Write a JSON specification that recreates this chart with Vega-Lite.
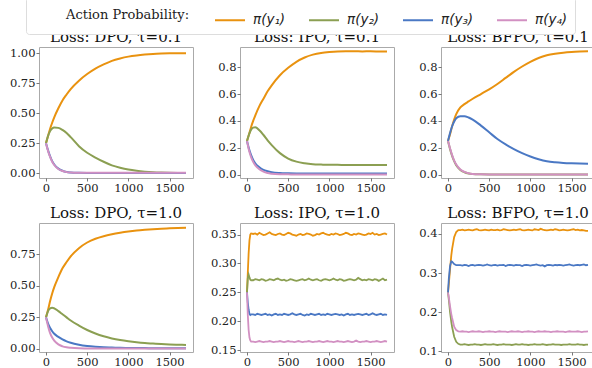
{
"$schema":"https://vega.github.io/schema/vega-lite/v6.json",
"padding":{"left":8,"top":-4,"right":0,"bottom":0},
"background":"white",
"config":{
 "font":"DejaVu Serif",
 "view":{"stroke":"#aaaaaa","strokeWidth":1},
 "axis":{"labelFont":"DejaVu Serif","labelFontSize":11.5,"labelColor":"#222222","tickColor":"#555555","tickSize":3,"tickWidth":0.8,"domain":false,"grid":false,"title":null,"labelPadding":1,"labelOverlap":false,"labelFlush":false},
 "title":{"font":"DejaVu Serif","fontSize":15,"fontWeight":"normal","color":"#111111","offset":2,"anchor":"middle"},
 "legend":{"orient":"none","legendX":-13,"legendY":-50,"direction":"horizontal","titleOrient":"left","titleFont":"DejaVu Serif","titleFontSize":13,"titleFontWeight":"normal","titleColor":"#222222","titlePadding":24,"labelFont":"DejaVu Sans","labelFontSize":13.5,"labelFontStyle":"italic","labelColor":"#222222","symbolType":"stroke","symbolSize":900,"symbolStrokeWidth":1.5,"labelOffset":7,"columnPadding":19,"padding":7,"fillColor":"white","strokeColor":"#dddddd","cornerRadius":3},
 "line":{"strokeWidth":2}
},
"data":{"values":[
{"p":1,"x":0,"a":0.25,"b":0.25,"c":0.25,"d":0.25},
{"p":1,"x":25,"a":0.31,"b":0.31,"c":0.19,"d":0.185},
{"p":1,"x":50,"a":0.37,"b":0.35,"c":0.14,"d":0.135},
{"p":1,"x":75,"a":0.42,"b":0.372,"c":0.1,"d":0.095},
{"p":1,"x":100,"a":0.465,"b":0.38,"c":0.072,"d":0.068},
{"p":1,"x":150,"a":0.54,"b":0.377,"c":0.038,"d":0.035},
{"p":1,"x":200,"a":0.605,"b":0.36,"c":0.02,"d":0.018},
{"p":1,"x":250,"a":0.655,"b":0.335,"c":0.01,"d":0.009},
{"p":1,"x":300,"a":0.7,"b":0.3,"c":0.006,"d":0.005},
{"p":1,"x":400,"a":0.77,"b":0.225,"c":0.003,"d":0.003},
{"p":1,"x":500,"a":0.825,"b":0.17,"c":0.002,"d":0.003},
{"p":1,"x":600,"a":0.87,"b":0.13,"c":0.002,"d":0.003},
{"p":1,"x":700,"a":0.905,"b":0.095,"c":0.002,"d":0.003},
{"p":1,"x":800,"a":0.935,"b":0.065,"c":0.002,"d":0.003},
{"p":1,"x":900,"a":0.955,"b":0.045,"c":0.002,"d":0.003},
{"p":1,"x":1000,"a":0.97,"b":0.03,"c":0.002,"d":0.003},
{"p":1,"x":1100,"a":0.98,"b":0.02,"c":0.002,"d":0.003},
{"p":1,"x":1200,"a":0.987,"b":0.013,"c":0.002,"d":0.003},
{"p":1,"x":1300,"a":0.992,"b":0.008,"c":0.002,"d":0.003},
{"p":1,"x":1400,"a":0.995,"b":0.005,"c":0.002,"d":0.003},
{"p":1,"x":1500,"a":0.997,"b":0.003,"c":0.002,"d":0.003},
{"p":1,"x":1600,"a":0.998,"b":0.002,"c":0.002,"d":0.003},
{"p":1,"x":1700,"a":0.998,"b":0.002,"c":0.002,"d":0.003},

{"p":2,"x":0,"a":0.25,"b":0.25,"c":0.25,"d":0.25},
{"p":2,"x":25,"a":0.30,"b":0.30,"c":0.19,"d":0.18},
{"p":2,"x":50,"a":0.355,"b":0.335,"c":0.145,"d":0.13},
{"p":2,"x":75,"a":0.40,"b":0.35,"c":0.11,"d":0.095},
{"p":2,"x":100,"a":0.44,"b":0.352,"c":0.085,"d":0.07},
{"p":2,"x":150,"a":0.51,"b":0.33,"c":0.055,"d":0.04},
{"p":2,"x":200,"a":0.565,"b":0.295,"c":0.035,"d":0.022},
{"p":2,"x":250,"a":0.62,"b":0.255,"c":0.025,"d":0.012},
{"p":2,"x":300,"a":0.665,"b":0.22,"c":0.018,"d":0.007},
{"p":2,"x":400,"a":0.74,"b":0.16,"c":0.012,"d":0.003},
{"p":2,"x":500,"a":0.795,"b":0.12,"c":0.01,"d":0.002},
{"p":2,"x":600,"a":0.84,"b":0.097,"c":0.009,"d":0.001},
{"p":2,"x":700,"a":0.872,"b":0.085,"c":0.009,"d":0.001},
{"p":2,"x":800,"a":0.893,"b":0.078,"c":0.009,"d":0.001},
{"p":2,"x":900,"a":0.906,"b":0.075,"c":0.009,"d":0.001},
{"p":2,"x":1000,"a":0.913,"b":0.073,"c":0.009,"d":0.001},
{"p":2,"x":1100,"a":0.917,"b":0.073,"c":0.009,"d":0.001},
{"p":2,"x":1200,"a":0.918,"b":0.072,"c":0.009,"d":0.001},
{"p":2,"x":1300,"a":0.918,"b":0.072,"c":0.009,"d":0.001},
{"p":2,"x":1400,"a":0.917,"b":0.072,"c":0.009,"d":0.001},
{"p":2,"x":1500,"a":0.918,"b":0.071,"c":0.009,"d":0.001},
{"p":2,"x":1600,"a":0.917,"b":0.072,"c":0.009,"d":0.001},
{"p":2,"x":1700,"a":0.916,"b":0.072,"c":0.009,"d":0.001},

{"p":3,"x":0,"a":0.25,"b":0.25,"c":0.25,"d":0.25},
{"p":3,"x":25,"a":0.30,"b":0.19,"c":0.31,"d":0.195},
{"p":3,"x":50,"a":0.36,"b":0.14,"c":0.36,"d":0.145},
{"p":3,"x":75,"a":0.41,"b":0.1,"c":0.395,"d":0.105},
{"p":3,"x":100,"a":0.45,"b":0.07,"c":0.42,"d":0.075},
{"p":3,"x":150,"a":0.5,"b":0.035,"c":0.435,"d":0.038},
{"p":3,"x":200,"a":0.525,"b":0.018,"c":0.435,"d":0.02},
{"p":3,"x":250,"a":0.545,"b":0.009,"c":0.425,"d":0.01},
{"p":3,"x":300,"a":0.565,"b":0.005,"c":0.41,"d":0.005},
{"p":3,"x":400,"a":0.6,"b":0.002,"c":0.365,"d":0.002},
{"p":3,"x":500,"a":0.635,"b":0.001,"c":0.315,"d":0.001},
{"p":3,"x":600,"a":0.675,"b":0.001,"c":0.265,"d":0.001},
{"p":3,"x":700,"a":0.72,"b":0.001,"c":0.225,"d":0.001},
{"p":3,"x":800,"a":0.765,"b":0.001,"c":0.19,"d":0.001},
{"p":3,"x":900,"a":0.805,"b":0.001,"c":0.16,"d":0.001},
{"p":3,"x":1000,"a":0.84,"b":0.001,"c":0.135,"d":0.001},
{"p":3,"x":1100,"a":0.868,"b":0.001,"c":0.115,"d":0.001},
{"p":3,"x":1200,"a":0.888,"b":0.001,"c":0.1,"d":0.001},
{"p":3,"x":1300,"a":0.9,"b":0.001,"c":0.092,"d":0.001},
{"p":3,"x":1400,"a":0.908,"b":0.001,"c":0.087,"d":0.001},
{"p":3,"x":1500,"a":0.913,"b":0.001,"c":0.084,"d":0.001},
{"p":3,"x":1600,"a":0.916,"b":0.001,"c":0.082,"d":0.001},
{"p":3,"x":1700,"a":0.918,"b":0.001,"c":0.081,"d":0.001},

{"p":4,"x":0,"a":0.25,"b":0.25,"c":0.25,"d":0.25},
{"p":4,"x":25,"a":0.31,"b":0.30,"c":0.2,"d":0.18},
{"p":4,"x":50,"a":0.38,"b":0.322,"c":0.165,"d":0.125},
{"p":4,"x":75,"a":0.44,"b":0.327,"c":0.14,"d":0.09},
{"p":4,"x":100,"a":0.49,"b":0.322,"c":0.12,"d":0.065},
{"p":4,"x":150,"a":0.57,"b":0.3,"c":0.095,"d":0.035},
{"p":4,"x":200,"a":0.64,"b":0.275,"c":0.075,"d":0.02},
{"p":4,"x":250,"a":0.69,"b":0.25,"c":0.06,"d":0.012},
{"p":4,"x":300,"a":0.735,"b":0.225,"c":0.048,"d":0.008},
{"p":4,"x":400,"a":0.8,"b":0.185,"c":0.032,"d":0.004},
{"p":4,"x":500,"a":0.845,"b":0.15,"c":0.022,"d":0.003},
{"p":4,"x":600,"a":0.875,"b":0.122,"c":0.016,"d":0.002},
{"p":4,"x":700,"a":0.895,"b":0.1,"c":0.012,"d":0.002},
{"p":4,"x":800,"a":0.91,"b":0.083,"c":0.01,"d":0.002},
{"p":4,"x":900,"a":0.922,"b":0.07,"c":0.008,"d":0.002},
{"p":4,"x":1000,"a":0.932,"b":0.06,"c":0.007,"d":0.002},
{"p":4,"x":1100,"a":0.94,"b":0.052,"c":0.006,"d":0.002},
{"p":4,"x":1200,"a":0.946,"b":0.046,"c":0.006,"d":0.002},
{"p":4,"x":1300,"a":0.951,"b":0.042,"c":0.005,"d":0.002},
{"p":4,"x":1400,"a":0.955,"b":0.038,"c":0.005,"d":0.002},
{"p":4,"x":1500,"a":0.958,"b":0.035,"c":0.005,"d":0.002},
{"p":4,"x":1600,"a":0.961,"b":0.033,"c":0.005,"d":0.002},
{"p":4,"x":1700,"a":0.963,"b":0.031,"c":0.005,"d":0.002},

{"p":5,"x":0,"a":0.25,"b":0.25,"c":0.25,"d":0.25},
{"p":5,"x":10,"a":0.285,"b":0.275,"c":0.232,"d":0.21},
{"p":5,"x":20,"a":0.318,"b":0.281,"c":0.22,"d":0.185},
{"p":5,"x":30,"a":0.34,"b":0.276,"c":0.213,"d":0.172},
{"p":5,"x":40,"a":0.35,"b":0.272,"c":0.211,"d":0.167},
{"p":5,"x":50,"a":0.352,"b":0.271,"c":0.212,"d":0.165},
{"p":5,"x":75,"a":0.351,"b":0.271,"c":0.212,"d":0.165},
{"p":5,"x":100,"a":0.352,"b":0.273,"c":0.211,"d":0.164},
{"p":5,"x":125,"a":0.350,"b":0.272,"c":0.213,"d":0.165},
{"p":5,"x":150,"a":0.353,"b":0.271,"c":0.212,"d":0.166},
{"p":5,"x":175,"a":0.351,"b":0.273,"c":0.211,"d":0.165},
{"p":5,"x":200,"a":0.349,"b":0.272,"c":0.212,"d":0.164},
{"p":5,"x":225,"a":0.350,"b":0.270,"c":0.213,"d":0.165},
{"p":5,"x":250,"a":0.352,"b":0.271,"c":0.211,"d":0.165},
{"p":5,"x":275,"a":0.354,"b":0.273,"c":0.212,"d":0.166},
{"p":5,"x":300,"a":0.351,"b":0.272,"c":0.210,"d":0.165},
{"p":5,"x":325,"a":0.350,"b":0.271,"c":0.212,"d":0.164},
{"p":5,"x":350,"a":0.349,"b":0.273,"c":0.213,"d":0.165},
{"p":5,"x":375,"a":0.351,"b":0.274,"c":0.211,"d":0.165},
{"p":5,"x":400,"a":0.352,"b":0.272,"c":0.212,"d":0.166},
{"p":5,"x":425,"a":0.350,"b":0.271,"c":0.211,"d":0.165},
{"p":5,"x":450,"a":0.349,"b":0.272,"c":0.213,"d":0.164},
{"p":5,"x":475,"a":0.351,"b":0.270,"c":0.212,"d":0.165},
{"p":5,"x":500,"a":0.353,"b":0.271,"c":0.211,"d":0.166},
{"p":5,"x":525,"a":0.352,"b":0.273,"c":0.212,"d":0.165},
{"p":5,"x":550,"a":0.350,"b":0.272,"c":0.214,"d":0.165},
{"p":5,"x":575,"a":0.349,"b":0.271,"c":0.212,"d":0.164},
{"p":5,"x":600,"a":0.348,"b":0.270,"c":0.211,"d":0.165},
{"p":5,"x":625,"a":0.350,"b":0.271,"c":0.212,"d":0.166},
{"p":5,"x":650,"a":0.351,"b":0.272,"c":0.213,"d":0.165},
{"p":5,"x":675,"a":0.349,"b":0.273,"c":0.211,"d":0.164},
{"p":5,"x":700,"a":0.350,"b":0.271,"c":0.210,"d":0.165},
{"p":5,"x":725,"a":0.352,"b":0.272,"c":0.212,"d":0.165},
{"p":5,"x":750,"a":0.351,"b":0.274,"c":0.211,"d":0.166},
{"p":5,"x":775,"a":0.350,"b":0.272,"c":0.213,"d":0.165},
{"p":5,"x":800,"a":0.348,"b":0.271,"c":0.212,"d":0.164},
{"p":5,"x":825,"a":0.349,"b":0.272,"c":0.211,"d":0.165},
{"p":5,"x":850,"a":0.351,"b":0.273,"c":0.212,"d":0.165},
{"p":5,"x":875,"a":0.350,"b":0.271,"c":0.213,"d":0.166},
{"p":5,"x":900,"a":0.352,"b":0.270,"c":0.211,"d":0.165},
{"p":5,"x":925,"a":0.353,"b":0.272,"c":0.212,"d":0.164},
{"p":5,"x":950,"a":0.351,"b":0.273,"c":0.211,"d":0.165},
{"p":5,"x":975,"a":0.350,"b":0.272,"c":0.213,"d":0.166},
{"p":5,"x":1000,"a":0.349,"b":0.271,"c":0.212,"d":0.165},
{"p":5,"x":1025,"a":0.351,"b":0.272,"c":0.211,"d":0.165},
{"p":5,"x":1050,"a":0.350,"b":0.274,"c":0.212,"d":0.164},
{"p":5,"x":1075,"a":0.352,"b":0.272,"c":0.213,"d":0.165},
{"p":5,"x":1100,"a":0.351,"b":0.271,"c":0.212,"d":0.166},
{"p":5,"x":1125,"a":0.349,"b":0.273,"c":0.211,"d":0.165},
{"p":5,"x":1150,"a":0.350,"b":0.272,"c":0.212,"d":0.165},
{"p":5,"x":1175,"a":0.351,"b":0.270,"c":0.210,"d":0.164},
{"p":5,"x":1200,"a":0.353,"b":0.271,"c":0.212,"d":0.165},
{"p":5,"x":1225,"a":0.352,"b":0.272,"c":0.213,"d":0.166},
{"p":5,"x":1250,"a":0.350,"b":0.273,"c":0.211,"d":0.165},
{"p":5,"x":1275,"a":0.349,"b":0.272,"c":0.212,"d":0.164},
{"p":5,"x":1300,"a":0.351,"b":0.271,"c":0.211,"d":0.165},
{"p":5,"x":1325,"a":0.350,"b":0.272,"c":0.212,"d":0.167},
{"p":5,"x":1350,"a":0.352,"b":0.275,"c":0.213,"d":0.165},
{"p":5,"x":1375,"a":0.351,"b":0.273,"c":0.212,"d":0.164},
{"p":5,"x":1400,"a":0.350,"b":0.271,"c":0.211,"d":0.165},
{"p":5,"x":1425,"a":0.349,"b":0.272,"c":0.212,"d":0.165},
{"p":5,"x":1450,"a":0.350,"b":0.271,"c":0.213,"d":0.166},
{"p":5,"x":1475,"a":0.352,"b":0.273,"c":0.211,"d":0.165},
{"p":5,"x":1500,"a":0.351,"b":0.272,"c":0.212,"d":0.164},
{"p":5,"x":1525,"a":0.353,"b":0.271,"c":0.214,"d":0.165},
{"p":5,"x":1550,"a":0.350,"b":0.273,"c":0.212,"d":0.165},
{"p":5,"x":1575,"a":0.351,"b":0.272,"c":0.211,"d":0.166},
{"p":5,"x":1600,"a":0.349,"b":0.270,"c":0.212,"d":0.165},
{"p":5,"x":1625,"a":0.350,"b":0.272,"c":0.213,"d":0.164},
{"p":5,"x":1650,"a":0.351,"b":0.274,"c":0.211,"d":0.165},
{"p":5,"x":1675,"a":0.352,"b":0.271,"c":0.212,"d":0.166},
{"p":5,"x":1700,"a":0.350,"b":0.272,"c":0.211,"d":0.165},

{"p":6,"x":0,"a":0.25,"b":0.25,"c":0.25,"d":0.25},
{"p":6,"x":10,"a":0.272,"b":0.232,"c":0.285,"d":0.238},
{"p":6,"x":25,"a":0.31,"b":0.2,"c":0.318,"d":0.215},
{"p":6,"x":40,"a":0.345,"b":0.175,"c":0.33,"d":0.195},
{"p":6,"x":50,"a":0.362,"b":0.162,"c":0.329,"d":0.185},
{"p":6,"x":75,"a":0.392,"b":0.137,"c":0.323,"d":0.163},
{"p":6,"x":100,"a":0.405,"b":0.124,"c":0.32,"d":0.154},
{"p":6,"x":125,"a":0.41,"b":0.119,"c":0.32,"d":0.151},
{"p":6,"x":150,"a":0.410,"b":0.117,"c":0.320,"d":0.150},
{"p":6,"x":175,"a":0.411,"b":0.117,"c":0.319,"d":0.151},
{"p":6,"x":200,"a":0.409,"b":0.118,"c":0.321,"d":0.150},
{"p":6,"x":225,"a":0.410,"b":0.117,"c":0.320,"d":0.150},
{"p":6,"x":250,"a":0.411,"b":0.116,"c":0.318,"d":0.149},
{"p":6,"x":275,"a":0.410,"b":0.117,"c":0.320,"d":0.150},
{"p":6,"x":300,"a":0.409,"b":0.117,"c":0.321,"d":0.151},
{"p":6,"x":325,"a":0.411,"b":0.118,"c":0.319,"d":0.150},
{"p":6,"x":350,"a":0.412,"b":0.117,"c":0.320,"d":0.150},
{"p":6,"x":375,"a":0.410,"b":0.117,"c":0.321,"d":0.151},
{"p":6,"x":400,"a":0.409,"b":0.116,"c":0.320,"d":0.150},
{"p":6,"x":425,"a":0.410,"b":0.117,"c":0.319,"d":0.149},
{"p":6,"x":450,"a":0.411,"b":0.118,"c":0.320,"d":0.150},
{"p":6,"x":475,"a":0.410,"b":0.117,"c":0.322,"d":0.150},
{"p":6,"x":500,"a":0.409,"b":0.117,"c":0.320,"d":0.151},
{"p":6,"x":525,"a":0.411,"b":0.117,"c":0.319,"d":0.150},
{"p":6,"x":550,"a":0.410,"b":0.118,"c":0.320,"d":0.150},
{"p":6,"x":575,"a":0.410,"b":0.117,"c":0.321,"d":0.149},
{"p":6,"x":600,"a":0.411,"b":0.116,"c":0.319,"d":0.150},
{"p":6,"x":625,"a":0.409,"b":0.117,"c":0.320,"d":0.151},
{"p":6,"x":650,"a":0.410,"b":0.117,"c":0.320,"d":0.150},
{"p":6,"x":675,"a":0.412,"b":0.118,"c":0.321,"d":0.150},
{"p":6,"x":700,"a":0.411,"b":0.117,"c":0.318,"d":0.150},
{"p":6,"x":725,"a":0.410,"b":0.117,"c":0.320,"d":0.149},
{"p":6,"x":750,"a":0.409,"b":0.117,"c":0.321,"d":0.150},
{"p":6,"x":775,"a":0.410,"b":0.116,"c":0.320,"d":0.151},
{"p":6,"x":800,"a":0.411,"b":0.117,"c":0.319,"d":0.150},
{"p":6,"x":825,"a":0.410,"b":0.118,"c":0.321,"d":0.150},
{"p":6,"x":850,"a":0.411,"b":0.117,"c":0.320,"d":0.151},
{"p":6,"x":875,"a":0.412,"b":0.117,"c":0.320,"d":0.150},
{"p":6,"x":900,"a":0.410,"b":0.118,"c":0.318,"d":0.149},
{"p":6,"x":925,"a":0.409,"b":0.117,"c":0.320,"d":0.150},
{"p":6,"x":950,"a":0.410,"b":0.117,"c":0.321,"d":0.150},
{"p":6,"x":975,"a":0.411,"b":0.116,"c":0.320,"d":0.151},
{"p":6,"x":1000,"a":0.410,"b":0.117,"c":0.319,"d":0.150},
{"p":6,"x":1025,"a":0.409,"b":0.117,"c":0.320,"d":0.150},
{"p":6,"x":1050,"a":0.412,"b":0.118,"c":0.321,"d":0.149},
{"p":6,"x":1075,"a":0.411,"b":0.117,"c":0.322,"d":0.150},
{"p":6,"x":1100,"a":0.410,"b":0.117,"c":0.320,"d":0.151},
{"p":6,"x":1125,"a":0.413,"b":0.117,"c":0.319,"d":0.150},
{"p":6,"x":1150,"a":0.411,"b":0.118,"c":0.320,"d":0.150},
{"p":6,"x":1175,"a":0.410,"b":0.117,"c":0.317,"d":0.151},
{"p":6,"x":1200,"a":0.409,"b":0.116,"c":0.320,"d":0.150},
{"p":6,"x":1225,"a":0.410,"b":0.117,"c":0.321,"d":0.150},
{"p":6,"x":1250,"a":0.411,"b":0.117,"c":0.320,"d":0.149},
{"p":6,"x":1275,"a":0.410,"b":0.118,"c":0.319,"d":0.150},
{"p":6,"x":1300,"a":0.412,"b":0.117,"c":0.321,"d":0.150},
{"p":6,"x":1325,"a":0.411,"b":0.117,"c":0.320,"d":0.151},
{"p":6,"x":1350,"a":0.409,"b":0.117,"c":0.321,"d":0.150},
{"p":6,"x":1375,"a":0.410,"b":0.116,"c":0.320,"d":0.150},
{"p":6,"x":1400,"a":0.411,"b":0.117,"c":0.319,"d":0.150},
{"p":6,"x":1425,"a":0.410,"b":0.117,"c":0.320,"d":0.149},
{"p":6,"x":1450,"a":0.409,"b":0.117,"c":0.321,"d":0.150},
{"p":6,"x":1475,"a":0.410,"b":0.118,"c":0.322,"d":0.151},
{"p":6,"x":1500,"a":0.411,"b":0.117,"c":0.320,"d":0.150},
{"p":6,"x":1525,"a":0.412,"b":0.117,"c":0.319,"d":0.150},
{"p":6,"x":1550,"a":0.410,"b":0.117,"c":0.320,"d":0.150},
{"p":6,"x":1575,"a":0.411,"b":0.118,"c":0.321,"d":0.151},
{"p":6,"x":1600,"a":0.409,"b":0.117,"c":0.320,"d":0.150},
{"p":6,"x":1625,"a":0.410,"b":0.117,"c":0.321,"d":0.149},
{"p":6,"x":1650,"a":0.409,"b":0.116,"c":0.322,"d":0.150},
{"p":6,"x":1675,"a":0.408,"b":0.117,"c":0.320,"d":0.150},
{"p":6,"x":1700,"a":0.408,"b":0.117,"c":0.321,"d":0.151}
]},
"columns":3,
"bounds":"flush",
"spacing":{"row":45,"column":47},
"concat":[
{"title":"Loss: DPO, τ=0.1","width":154,"height":131,
 "transform":[{"filter":"datum.p==1"},{"fold":["a","b","c","d"],"as":["s","v"]}],
 "mark":{"type":"line","strokeWidth":2,"interpolate":"monotone"},
 "encoding":{
  "x":{"field":"x","type":"quantitative","scale":{"domain":[-85,1785],"nice":false,"zero":false},"axis":{"values":[0,500,1000,1500],"format":"d"}},
  "y":{"field":"v","type":"quantitative","scale":{"domain":[-0.04,1.05],"nice":false,"zero":false},"axis":{"values":[0,0.25,0.5,0.75,1],"format":".2f"}},
  "color":{"field":"s","type":"nominal","scale":{"domain":["a","b","c","d"],"range":["#e9920f","#8b9f52","#4a78c4","#d290c2"]},
   "legend":{"title":"\u200b\u00a0\u00a0\u00a0\u00a0\u00a0\u00a0\u00a0\u00a0Action Probability:","labelExpr":"datum.label=='a'?'π(y₁)':datum.label=='b'?'π(y₂)':datum.label=='c'?'π(y₃)':'π(y₄)'"}}
 }},
{"title":"Loss: IPO, τ=0.1","width":154,"height":131,
 "transform":[{"filter":"datum.p==2"},{"fold":["a","b","c","d"],"as":["s","v"]}],
 "mark":{"type":"line","strokeWidth":2,"interpolate":"monotone"},
 "encoding":{
  "x":{"field":"x","type":"quantitative","scale":{"domain":[-85,1785],"nice":false,"zero":false},"axis":{"values":[0,500,1000,1500],"format":"d"}},
  "y":{"field":"v","type":"quantitative","scale":{"domain":[-0.025,0.95],"nice":false,"zero":false},"axis":{"values":[0,0.2,0.4,0.6,0.8],"format":".1f"}},
  "color":{"field":"s","type":"nominal","scale":{"domain":["a","b","c","d"],"range":["#e9920f","#8b9f52","#4a78c4","#d290c2"]},
   "legend":{"title":"\u200b\u00a0\u00a0\u00a0\u00a0\u00a0\u00a0\u00a0\u00a0Action Probability:","labelExpr":"datum.label=='a'?'π(y₁)':datum.label=='b'?'π(y₂)':datum.label=='c'?'π(y₃)':'π(y₄)'"}}
 }},
{"title":"Loss: BFPO, τ=0.1","width":154,"height":131,
 "transform":[{"filter":"datum.p==3"},{"fold":["a","b","c","d"],"as":["s","v"]}],
 "mark":{"type":"line","strokeWidth":2,"interpolate":"monotone"},
 "encoding":{
  "x":{"field":"x","type":"quantitative","scale":{"domain":[-85,1785],"nice":false,"zero":false},"axis":{"values":[0,500,1000,1500],"format":"d"}},
  "y":{"field":"v","type":"quantitative","scale":{"domain":[-0.025,0.95],"nice":false,"zero":false},"axis":{"values":[0,0.2,0.4,0.6,0.8],"format":".1f"}},
  "color":{"field":"s","type":"nominal","scale":{"domain":["a","b","c","d"],"range":["#e9920f","#8b9f52","#4a78c4","#d290c2"]},
   "legend":{"title":"\u200b\u00a0\u00a0\u00a0\u00a0\u00a0\u00a0\u00a0\u00a0Action Probability:","labelExpr":"datum.label=='a'?'π(y₁)':datum.label=='b'?'π(y₂)':datum.label=='c'?'π(y₃)':'π(y₄)'"}}
 }},
{"title":"Loss: DPO, τ=1.0","width":154,"height":129,
 "transform":[{"filter":"datum.p==4"},{"fold":["a","b","c","d"],"as":["s","v"]}],
 "mark":{"type":"line","strokeWidth":2,"interpolate":"monotone"},
 "encoding":{
  "x":{"field":"x","type":"quantitative","scale":{"domain":[-85,1785],"nice":false,"zero":false},"axis":{"values":[0,500,1000,1500],"format":"d"}},
  "y":{"field":"v","type":"quantitative","scale":{"domain":[-0.025,1.0],"nice":false,"zero":false},"axis":{"values":[0,0.25,0.5,0.75],"format":".2f"}},
  "color":{"field":"s","type":"nominal","scale":{"domain":["a","b","c","d"],"range":["#e9920f","#8b9f52","#4a78c4","#d290c2"]},
   "legend":{"title":"\u200b\u00a0\u00a0\u00a0\u00a0\u00a0\u00a0\u00a0\u00a0Action Probability:","labelExpr":"datum.label=='a'?'π(y₁)':datum.label=='b'?'π(y₂)':datum.label=='c'?'π(y₃)':'π(y₄)'"}}
 }},
{"title":"Loss: IPO, τ=1.0","width":154,"height":129,
 "transform":[{"filter":"datum.p==5"},{"fold":["a","b","c","d"],"as":["s","v"]}],
 "mark":{"type":"line","strokeWidth":1.8},
 "encoding":{
  "x":{"field":"x","type":"quantitative","scale":{"domain":[-85,1785],"nice":false,"zero":false},"axis":{"values":[0,500,1000,1500],"format":"d"}},
  "y":{"field":"v","type":"quantitative","scale":{"domain":[0.147,0.37],"nice":false,"zero":false},"axis":{"values":[0.15,0.2,0.25,0.3,0.35],"format":".2f"}},
  "color":{"field":"s","type":"nominal","scale":{"domain":["a","b","c","d"],"range":["#e9920f","#8b9f52","#4a78c4","#d290c2"]},
   "legend":{"title":"\u200b\u00a0\u00a0\u00a0\u00a0\u00a0\u00a0\u00a0\u00a0Action Probability:","labelExpr":"datum.label=='a'?'π(y₁)':datum.label=='b'?'π(y₂)':datum.label=='c'?'π(y₃)':'π(y₄)'"}}
 }},
{"title":"Loss: BFPO, τ=1.0","width":154,"height":129,
 "transform":[{"filter":"datum.p==6"},{"fold":["a","b","c","d"],"as":["s","v"]}],
 "mark":{"type":"line","strokeWidth":1.8},
 "encoding":{
  "x":{"field":"x","type":"quantitative","scale":{"domain":[-85,1785],"nice":false,"zero":false},"axis":{"values":[0,500,1000,1500],"format":"d"}},
  "y":{"field":"v","type":"quantitative","scale":{"domain":[0.098,0.428],"nice":false,"zero":false},"axis":{"values":[0.1,0.2,0.3,0.4],"format":".1f"}},
  "color":{"field":"s","type":"nominal","scale":{"domain":["a","b","c","d"],"range":["#e9920f","#8b9f52","#4a78c4","#d290c2"]},
   "legend":{"title":"\u200b\u00a0\u00a0\u00a0\u00a0\u00a0\u00a0\u00a0\u00a0Action Probability:","labelExpr":"datum.label=='a'?'π(y₁)':datum.label=='b'?'π(y₂)':datum.label=='c'?'π(y₃)':'π(y₄)'"}}
 }}
]
}
